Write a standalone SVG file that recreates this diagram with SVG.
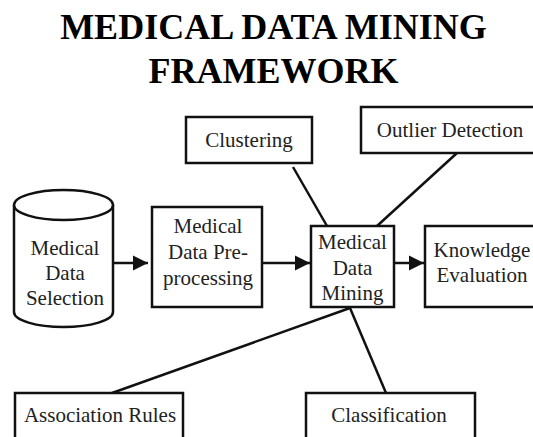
<svg xmlns="http://www.w3.org/2000/svg" width="533" height="437" viewBox="0 0 533 437">
<defs>
<style>
.box{fill:#fff;stroke:#111;stroke-width:2.5}
.ln{stroke:#111;stroke-width:2.5;fill:none}
.t{font-family:"Liberation Serif","Times New Roman",serif;font-size:21px;fill:#222;text-anchor:middle}
.title{font-family:"Liberation Serif","Times New Roman",serif;font-size:36px;font-weight:bold;fill:#000;text-anchor:middle}
</style>
<marker id="ah" viewBox="0 0 10 10" refX="10" refY="5" markerWidth="6" markerHeight="6.6" markerUnits="strokeWidth" orient="auto">
<path d="M0,0 L10,5 L0,10 Z" fill="#111"/>
</marker>
</defs>
<rect width="533" height="437" fill="#fff"/>
<g id="title">
<text class="title" x="273.5" y="39">MEDICAL DATA MINING</text>
<text class="title" x="273.5" y="83">FRAMEWORK</text>
</g>
<g id="connectors">
<line class="ln" x1="113" y1="263" x2="148" y2="263" marker-end="url(#ah)"/>
<line class="ln" x1="262" y1="263" x2="310" y2="263" marker-end="url(#ah)"/>
<line class="ln" x1="394" y1="263" x2="424" y2="263" marker-end="url(#ah)"/>
<line class="ln" x1="293" y1="167" x2="327" y2="226"/>
<line class="ln" x1="457" y1="153" x2="377" y2="226"/>
<line class="ln" x1="350" y1="308" x2="112" y2="393"/>
<line class="ln" x1="350" y1="308" x2="386" y2="393"/>
</g>
<g id="selection">
<path class="box" d="M14,205 V312 A49.5,15 0 0 0 113,312 V205"/>
<ellipse class="box" cx="63.5" cy="205" rx="49.5" ry="15"/>
<text class="t" x="65" y="255">Medical</text>
<text class="t" x="65" y="280">Data</text>
<text class="t" x="65" y="305">Selection</text>
</g>
<g id="preprocessing">
<rect class="box" x="152" y="207" width="110" height="100"/>
<text class="t" x="208" y="233">Medical</text>
<text class="t" x="208" y="259">Data Pre-</text>
<text class="t" x="208" y="285">processing</text>
</g>
<g id="mining">
<rect class="box" x="311" y="226" width="83" height="81"/>
<text class="t" x="352.5" y="249">Medical</text>
<text class="t" x="352.5" y="275">Data</text>
<text class="t" x="352.5" y="300">Mining</text>
</g>
<g id="knowledge">
<rect class="box" x="425" y="226" width="114" height="81"/>
<text class="t" x="482" y="257">Knowledge</text>
<text class="t" x="482" y="282">Evaluation</text>
</g>
<g id="clustering">
<rect class="box" x="186" y="117" width="126" height="46"/>
<text class="t" x="249" y="147">Clustering</text>
</g>
<g id="outlier">
<rect class="box" x="361" y="107" width="178" height="46"/>
<text class="t" x="450" y="137">Outlier Detection</text>
</g>
<g id="association">
<rect class="box" x="15" y="393" width="168" height="50"/>
<text class="t" x="100" y="422">Association Rules</text>
</g>
<g id="classification">
<rect class="box" x="306" y="393" width="169" height="50"/>
<text class="t" x="389" y="422">Classification</text>
</g>
</svg>
